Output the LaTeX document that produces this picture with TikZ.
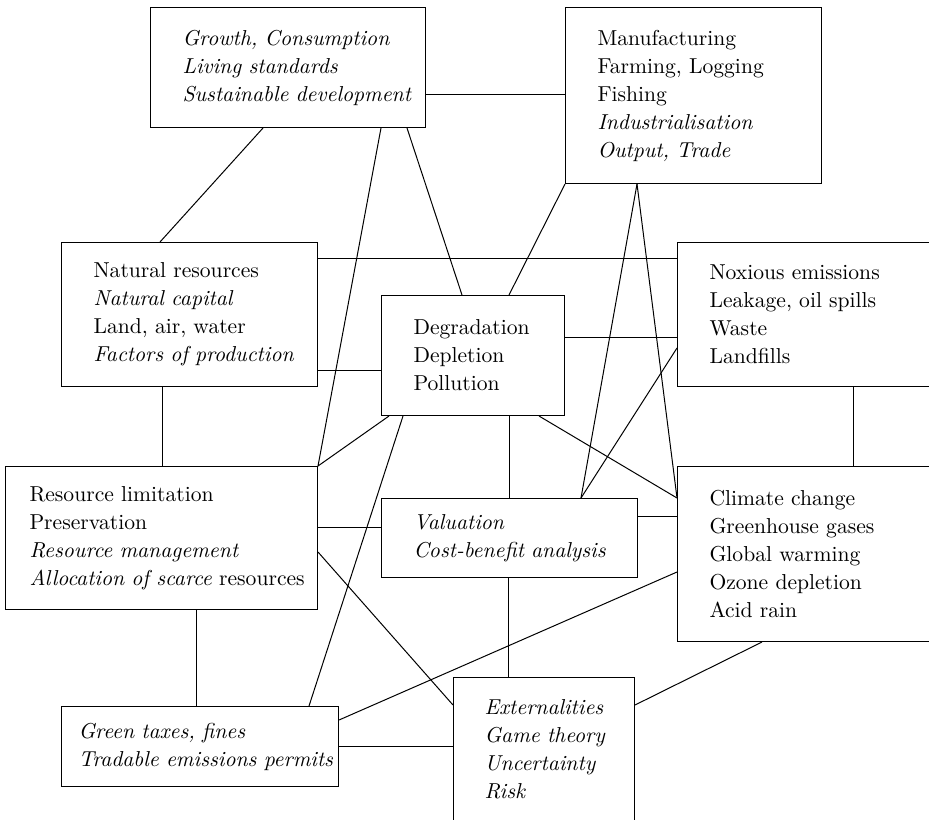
\documentclass[tikz,border=0pt]{standalone}
\begin{document}
\begin{tikzpicture}[x=0.5pt, y=-0.5pt, line width=0.5pt,
    every node/.style={font=\fontsize{10.8}{14}\selectfont},
    topic/.style={draw, anchor=north west, align=left, inner sep=0pt,
      execute at begin node={\leftskip=#1}},
    topic/.default=16pt]
    \useasboundingbox (0,0) rectangle (929,819);

    % Top row
    \node[topic, text width=137.5pt, minimum height=60pt] (growth) at (150,7)
        {\itshape Growth, Consumption\\ Living standards\\ Sustainable development};
    \node[topic, text width=128pt, minimum height=88pt] (industry) at (565,7)
        {Manufacturing\\ Farming, Logging\\ Fishing\\ \textit{Industrialisation}\\ \textit{Output, Trade}};

    % Middle row
    \node[topic, text width=128pt, minimum height=72pt] (resources) at (61,242)
        {Natural resources\\ \textit{Natural capital}\\ Land, air, water\\ \textit{Factors of production}};
    \node[topic, text width=91.5pt, minimum height=60pt] (degradation) at (381,295)
        {Degradation\\ Depletion\\ Pollution};
    \node[topic, text width=127pt, minimum height=72pt] (emissions) at (677,242)
        {Noxious emissions\\ Leakage, oil spills\\ Waste\\ Landfills};

    % Lower row
    \node[topic=12pt, text width=156pt, minimum height=71.5pt] (limitation) at (5,466)
        {Resource limitation\\ Preservation\\ \textit{Resource management}\\ \textit{Allocation of scarce} resources};
    \node[topic, text width=128pt, minimum height=39.5pt] (valuation) at (381,498)
        {\itshape Valuation\\ Cost-benefit analysis};
    \node[topic, text width=127pt, minimum height=87.5pt] (climate) at (677,466)
        {Climate change\\ Greenhouse gases\\ Global warming\\ Ozone depletion\\ Acid rain};

    % Bottom row
    \node[topic=8.5pt, text width=138.5pt, minimum height=40pt] (taxes) at (61,706)
        {\itshape Green taxes, fines\\ Tradable emissions permits};
    \node[topic=15.5pt, text width=90.5pt, minimum height=72pt] (externalities) at (453,677)
        {\itshape Externalities\\ Game theory\\ Uncertainty\\ Risk};

    % Links from the top row
    \draw (growth.east |- 0,94) -- (industry.west |- 0,94);
    \draw (growth.south -| 263,0) -- (resources.north -| 160,0);
    \draw (growth.south -| 381,0) -- (limitation.north east);
    \draw (growth.south -| 407,0) -- (degradation.north -| 462,0);
    \draw (industry.south west) -- (degradation.north -| 509,0);
    \draw (industry.south -| 637,0) -- (valuation.north -| 581,0);
    \draw (industry.south -| 637,0) -- (climate.west |- 0,498);

    % Links from the middle row
    \draw (resources.east |- 0,258) -- (emissions.west |- 0,258);
    \draw (resources.east |- 0,370) -- (degradation.west |- 0,370);
    \draw (resources.south -| 162,0) -- (limitation.north -| 162,0);
    \draw (degradation.east |- 0,337) -- (emissions.west |- 0,337);
    \draw (degradation.south -| 389,0) -- (limitation.north east);
    \draw (degradation.south -| 403,0) -- (taxes.north -| 309,0);
    \draw (degradation.south -| 509,0) -- (valuation.north -| 509,0);
    \draw (degradation.south -| 539,0) -- (climate.west |- 0,498);
    \draw (emissions.west |- 0,348) -- (valuation.north -| 581,0);
    \draw (emissions.south -| 853,0) -- (climate.north -| 853,0);

    % Links from the lower row
    \draw (limitation.east |- 0,527) -- (valuation.west |- 0,527);
    \draw (limitation.east |- 0,552) -- (externalities.west |- 0,705);
    \draw (limitation.south -| 196,0) -- (taxes.north -| 196,0);
    \draw (valuation.east |- 0,516) -- (climate.west |- 0,516);
    \draw (valuation.south -| 508,0) -- (externalities.north -| 508,0);

    % Links from the bottom row
    \draw (taxes.east |- 0,720) -- (climate.west |- 0,572);
    \draw (taxes.east |- 0,746) -- (externalities.west |- 0,746);
    \draw (externalities.east |- 0,705) -- (climate.south -| 762,0);
\end{tikzpicture}
\end{document}
